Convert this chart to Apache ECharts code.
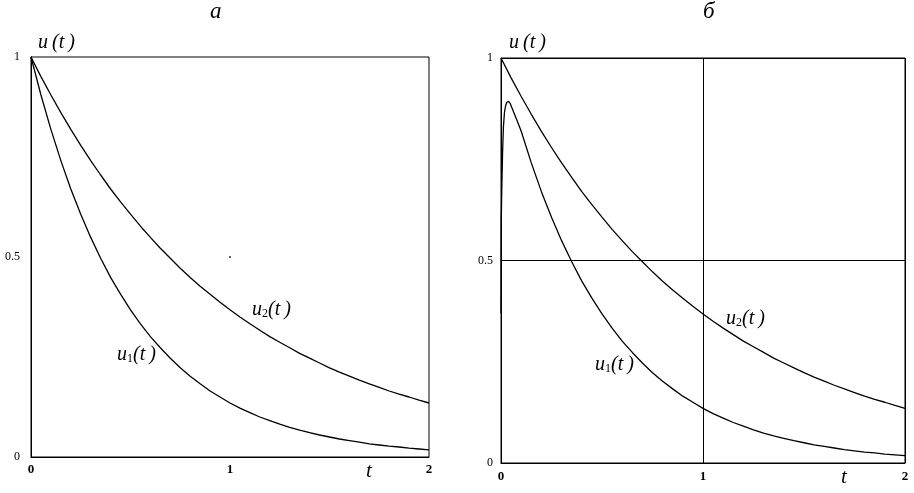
<!DOCTYPE html>
<html>
<head>
<meta charset="utf-8">
<script src="https://cdn.jsdelivr.net/npm/echarts@6/dist/echarts.min.js"></script>
<style>
html, body { margin: 0; padding: 0; background: #fff; }
#chart { width: 914px; height: 493px; }
</style>
</head>
<body>
<div id="chart"></div>
<script>
// time grid, step 0.05
const tSteps = [0, 0.05, 0.1, 0.15, 0.2, 0.25, 0.3, 0.35, 0.4, 0.45, 0.5, 0.55, 0.6, 0.65, 0.7, 0.75, 0.8, 0.85, 0.9, 0.95,
  1.0, 1.05, 1.1, 1.15, 1.2, 1.25, 1.3, 1.35, 1.4, 1.45, 1.5, 1.55, 1.6, 1.65, 1.7, 1.75, 1.8, 1.85, 1.9, 1.95, 2.0]

// u2(t) - same in both panels
const u2Values = [1, 0.951, 0.905, 0.861, 0.819, 0.779, 0.741, 0.705, 0.670, 0.638, 0.607, 0.577, 0.549, 0.522, 0.497,
  0.472, 0.449, 0.427, 0.407, 0.387, 0.368, 0.350, 0.333, 0.317, 0.301, 0.287, 0.273, 0.259, 0.247, 0.235, 0.223,
  0.212, 0.202, 0.192, 0.183, 0.174, 0.165, 0.157, 0.150, 0.142, 0.135]

// u1(t) - panel a
const u1Values = [1, 0.905, 0.819, 0.741, 0.670, 0.607, 0.549, 0.497, 0.449, 0.407, 0.368, 0.333, 0.301, 0.273, 0.247,
  0.223, 0.202, 0.183, 0.165, 0.150, 0.135, 0.122, 0.111, 0.100, 0.091, 0.082, 0.074, 0.067, 0.061, 0.055, 0.050,
  0.045, 0.041, 0.037, 0.033, 0.030, 0.027, 0.025, 0.022, 0.020, 0.018]

// u1(t) - panel b, start transient (t < 0.1) then same decay
const u1bStartT = [0, 0.001, 0.002, 0.004, 0.008, 0.012, 0.017, 0.022, 0.028, 0.034, 0.038, 0.045, 0.06, 0.08]
const u1bStartV = [0.37, 0.60, 0.62, 0.68, 0.77, 0.83, 0.865, 0.88, 0.89, 0.893, 0.893, 0.888, 0.87, 0.845]

const yTicks = [0, 0.5, 1]
const xTicks = [0, 1, 2]

function pairs(ts, vs) {
  return ts.map((t, i) => [t, vs[i]])
}
const u1bData = pairs(u1bStartT, u1bStartV).concat(pairs(tSteps.slice(2), u1Values.slice(2)))

const serif = 'Liberation Serif'
const chart = echarts.init(document.getElementById('chart'))

function xAxis(idx, showSplit, labelMargin) {
  return {
    type: 'value', gridIndex: idx, min: 0, max: 2, interval: 1,
    axisLine: { show: true, lineStyle: { color: '#000', width: 1 } },
    axisTick: { show: false },
    splitLine: { show: showSplit, lineStyle: { color: '#000', width: 1 } },
    axisLabel: {
      color: '#000', fontFamily: serif, fontSize: 13, fontWeight: 'bold', margin: labelMargin,
      formatter: v => (xTicks.indexOf(v) >= 0 ? String(v) : '')
    }
  }
}
function yAxis(idx, showSplit, labelMargin) {
  return {
    type: 'value', gridIndex: idx, min: 0, max: 1, interval: 0.5,
    axisLine: { show: true, lineStyle: { color: '#000', width: 1 } },
    axisTick: { show: false },
    splitLine: { show: showSplit, lineStyle: { color: '#000', width: 1 } },
    axisLabel: {
      color: '#000', fontFamily: serif, fontSize: 12, margin: labelMargin,
      formatter: v => (yTicks.indexOf(v) >= 0 ? String(v) : '')
    }
  }
}
function line(idx, data) {
  return {
    type: 'line', xAxisIndex: idx, yAxisIndex: idx, data: data,
    showSymbol: false, smooth: false, animation: false,
    lineStyle: { color: '#000', width: 1.3 }
  }
}

const italic = { fontFamily: serif, fontStyle: 'italic', fill: '#000' }
function curveLabel(x, y, sub) {
  return {
    type: 'text', left: x, top: y,
    style: {
      text: '{a|u}{s|' + sub + '}{a|(t\u2009)}',
      rich: {
        a: { fontFamily: serif, fontStyle: 'italic', fontSize: 20, color: '#000' },
        s: { fontFamily: serif, fontSize: 12, color: '#000', verticalAlign: 'bottom', padding: [8, 0, 0, 0] }
      }
    }
  }
}

chart.setOption({
  backgroundColor: '#fff',
  animation: false,
  grid: [
    { left: 31, top: 57, width: 398, height: 400, show: true, borderColor: '#000', borderWidth: 1 },
    { left: 501, top: 58, width: 404, height: 405, show: true, borderColor: '#000', borderWidth: 1 }
  ],
  xAxis: [xAxis(0, false, 6), xAxis(1, true, 7)],
  yAxis: [yAxis(0, false, 11), yAxis(1, true, 8)],
  series: [
    line(0, pairs(tSteps, u1Values)),
    line(0, pairs(tSteps, u2Values)),
    line(1, u1bData),
    line(1, pairs(tSteps, u2Values)),
    {
      type: 'scatter', xAxisIndex: 0, yAxisIndex: 0, data: [[1, 0.5]],
      symbolSize: 2, itemStyle: { color: '#000' }, silent: true
    }
  ],
  graphic: [
    { type: 'text', left: 210, top: 0, style: Object.assign({ text: 'а', fontSize: 23 }, italic) },
    { type: 'text', left: 703, top: 0, style: Object.assign({ text: 'б', fontSize: 23 }, italic) },
    { type: 'text', left: 38, top: 33, style: Object.assign({ text: 'u\u2009(t\u2009)', fontSize: 20 }, italic) },
    { type: 'text', left: 509, top: 33, style: Object.assign({ text: 'u\u2009(t\u2009)', fontSize: 20 }, italic) },
    { type: 'text', left: 366, top: 461, style: Object.assign({ text: 't', fontSize: 21 }, italic) },
    { type: 'text', left: 841, top: 467, style: Object.assign({ text: 't', fontSize: 21 }, italic) },
    curveLabel(117, 345, '1'),
    curveLabel(252, 300, '2'),
    curveLabel(595, 355, '1'),
    curveLabel(726, 309, '2')
  ]
})
</script>
</body>
</html>
